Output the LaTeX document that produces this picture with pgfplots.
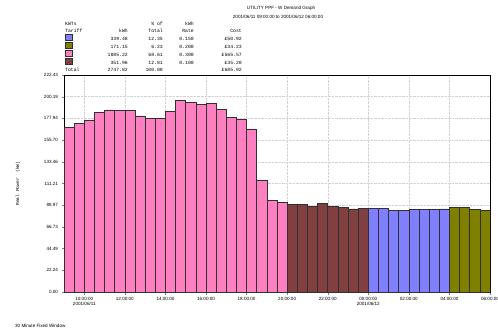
\documentclass[border=0pt]{standalone}
\usepackage{fontspec}
\setmainfont{Liberation Sans}
\setmonofont{Liberation Mono}
\usepackage{pgfplots}
\usepackage{pgfplotstable}
\pgfplotsset{compat=1.18}
\definecolor{tpink}{HTML}{FF80C0}
\definecolor{tbrown}{HTML}{804040}
\definecolor{tblue}{HTML}{8080FF}
\definecolor{tolive}{HTML}{808000}
\definecolor{edge}{HTML}{303030}
\pgfplotstableread{
x y
0.25 168.6
0.75 172.7
1.25 176.4
1.75 184.3
2.25 186.7
2.75 186.0
3.25 186.0
3.75 180.6
4.25 177.8
4.75 177.8
5.25 185.0
5.75 196.6
6.25 194.6
6.75 192.2
7.25 193.2
7.75 187.1
8.25 179.2
8.75 177.1
9.25 167.2
9.75 114.9
10.25 94.0
10.75 91.9
}\pinkdata
\pgfplotstableread{
x y
11.25 89.9
11.75 89.9
12.25 87.5
12.75 90.9
13.25 88.1
13.75 86.8
14.25 85.1
14.75 85.7
}\browndata
\pgfplotstableread{
x y
15.25 85.4
15.75 86.1
16.25 84.0
16.75 84.0
17.25 84.7
17.75 84.7
18.25 84.7
18.75 85.1
}\bluedata
\pgfplotstableread{
x y
19.25 86.9
19.75 86.6
20.25 84.9
20.75 83.8
}\olivedata
\newcommand{\sw}[1]{\tikz[baseline=0pt]\filldraw[fill=#1,draw=edge,line width=0.4pt] (0,-0.3bp) rectangle (6.5bp,6.2bp);}
\begin{document}
\begin{tikzpicture}[x=1bp,y=1bp]
\path[use as bounding box] (0,0) rectangle (498,333);
\begin{axis}[
  at={(64bp,41bp)}, anchor=south west,
  scale only axis, width=426bp, height=217bp,
  xmin=0, xmax=21, ymin=0, ymax=222.43,
  ytick={0,22.24,44.49,66.73,88.97,111.21,133.46,155.70,177.94,200.19,222.43},
  yticklabels={0.00,22.24,44.49,66.73,88.97,111.21,133.46,155.70,177.94,200.19,222.43},
  xtick={1,3,5,7,9,11,13,15,17,19,21},
  xticklabels={{10:00:00\\2001/06/11},12:00:00,14:00:00,16:00:00,18:00:00,20:00:00,22:00:00,{00:00:00\\2001/06/12},02:00:00,04:00:00,06:00:00},
  xticklabel style={align=center, font=\fontsize{4.6}{5.6}\selectfont, yshift=1bp},
  yticklabel style={font=\fontsize{4.6}{5.6}\selectfont},
  /pgf/number format/assume math mode=true,
  tick align=outside, tick pos=left, major tick length=2.5bp,
  grid=major,
  major grid style={densely dotted, gray!35, line width=0.4pt},
  axis line style={black, line width=0.7pt},
  ylabel={\ttfamily Real\ Power\ \ (kW)},
  ylabel style={font=\fontsize{4.6}{5.6}\selectfont, at={(axis description cs:-0.108,0.5)}, anchor=center},
]
\addplot[ybar, bar width=0.5, bar shift=0pt, fill=tpink, draw=edge, line width=0.5pt] table {\pinkdata};
\addplot[ybar, bar width=0.5, bar shift=0pt, fill=tbrown, draw=edge, line width=0.5pt] table {\browndata};
\addplot[ybar, bar width=0.5, bar shift=0pt, fill=tblue, draw=edge, line width=0.5pt] table {\bluedata};
\addplot[ybar, bar width=0.5, bar shift=0pt, fill=tolive, draw=edge, line width=0.5pt] table {\olivedata};
\end{axis}
\begin{scope}[every node/.style={inner sep=0pt, font=\fontsize{4.6}{5.6}\selectfont}]
\node[anchor=base] at (281,324) {UTILITY PPF - W Demand Graph};
\node[anchor=base] at (278,315) {2001/06/11 09:00:00 to 2001/06/12 06:00:00};
\node[anchor=base west] at (15,6) {30 Minute Fixed Window};
\end{scope}
\begin{scope}[every node/.style={inner sep=0pt, font=\fontsize{4.8}{5.6}\ttfamily}]
\node[anchor=base west] at (65,308) {KWTs};
\node[anchor=base west] at (65,301) {Tariff};
\node[anchor=base east] at (128,301) {kWh};
\node[anchor=base east] at (163,308) {\% of};
\node[anchor=base east] at (163,301) {Total};
\node[anchor=base east] at (194,308) {kWh};
\node[anchor=base east] at (194,301) {Rate};
\node[anchor=base east] at (242,301) {Cost};
% rows
\node[anchor=base west] at (65,293) {\sw{tblue}};
\node[anchor=base west] at (65,285) {\sw{tolive}};
\node[anchor=base west] at (65,277) {\sw{tpink}};
\node[anchor=base west] at (65,269) {\sw{tbrown}};
\node[anchor=base east] at (128,293) {339.48};
\node[anchor=base east] at (128,285) {171.15};
\node[anchor=base east] at (128,277) {1885.22};
\node[anchor=base east] at (128,269) {351.96};
\node[anchor=base east] at (163,293) {12.35};
\node[anchor=base east] at (163,285) {6.23};
\node[anchor=base east] at (163,277) {68.61};
\node[anchor=base east] at (163,269) {12.81};
\node[anchor=base east] at (194,293) {0.150};
\node[anchor=base east] at (194,285) {0.200};
\node[anchor=base east] at (194,277) {0.300};
\node[anchor=base east] at (194,269) {0.100};
\node[anchor=base east] at (242,293) {£50.92};
\node[anchor=base east] at (242,285) {£34.23};
\node[anchor=base east] at (242,277) {£565.57};
\node[anchor=base east] at (242,269) {£35.20};
\node[anchor=base west] at (65,262) {Total};
\node[anchor=base east] at (128,262) {2747.82};
\node[anchor=base east] at (163,262) {100.00};
\node[anchor=base east] at (242,262) {£685.92};
\end{scope}
\end{tikzpicture}
\end{document}
